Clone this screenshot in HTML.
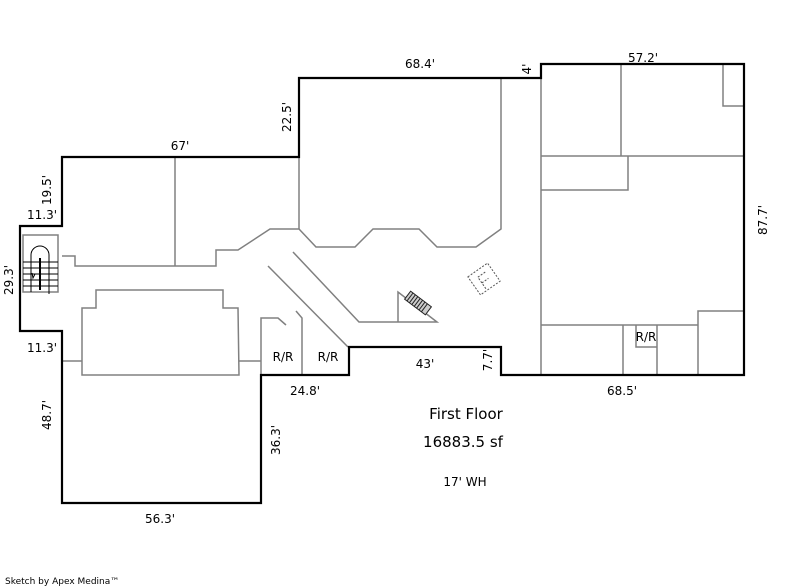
<!DOCTYPE html>
<html><head><meta charset="utf-8"><style>
html,body{margin:0;padding:0;background:#fff}
svg{display:block}
text{font-family:"DejaVu Sans","Liberation Sans",sans-serif;fill:#000}
</style></head><body>
<svg width="800" height="587" viewBox="0 0 800 587" xmlns="http://www.w3.org/2000/svg">
<g fill="none" stroke="#808080" stroke-width="1.5">
<line x1="175" y1="157" x2="175" y2="266"/>
<polyline points="62,256 75,256 75,266 216,266 216,250 238,250 270,229 299,229 316,247 355,247 373,229 419,229 437,247 476,247 501,229 501,78"/>
<line x1="299" y1="157" x2="299" y2="229"/>
<polyline points="293,252 359,322 437,322 398,292 398,322"/>
<line x1="268" y1="266" x2="348" y2="347"/>
<polyline points="296,311 302,318 302,375"/>
<polyline points="261,375 261,318 278,318 286,325"/>
<polygon points="82,375 82,308 96,308 96,290 223,290 223,308 238,308 239,375"/>
<line x1="62" y1="361" x2="82" y2="361"/>
<line x1="239" y1="361" x2="261" y2="361"/>
<line x1="541" y1="64" x2="541" y2="375"/>
<line x1="621" y1="64" x2="621" y2="156"/>
<line x1="541" y1="156" x2="744" y2="156"/>
<polyline points="628,156 628,190 541,190"/>
<polyline points="723,64 723,106 744,106"/>
<line x1="541" y1="325" x2="698" y2="325"/>
<polyline points="698,375 698,311 744,311"/>
<line x1="623" y1="325" x2="623" y2="375"/>
<line x1="657" y1="325" x2="657" y2="375"/>
<polyline points="636,325 636,347 657,347"/>
<rect x="23" y="235" width="35" height="57"/>
</g>
<g stroke="#000" stroke-width="1" fill="none">
<line x1="23" y1="262" x2="58" y2="262"/><line x1="23" y1="268" x2="58" y2="268"/>
<line x1="23" y1="274" x2="58" y2="274"/><line x1="23" y1="280" x2="58" y2="280"/>
<line x1="23" y1="286" x2="58" y2="286"/>
<path d="M31,292 V255 A9,9 0 0 1 49,255 V294"/>
<line x1="40" y1="258" x2="40" y2="290" stroke-width="2"/>
<path d="M32,273 l1,5 l2,-4"/>
<g stroke="#555" stroke-dasharray="2,1.5" transform="rotate(-35 484 279)">
<rect x="472" y="268" width="24" height="22"/>
<polyline points="480,288 480,274 490,274"/>
<line x1="480" y1="281" x2="488" y2="281"/>
</g>
<g transform="rotate(37 418 303)" stroke="#222">
<rect x="405" y="298" width="26" height="10" fill="#ccc"/>
<line x1="408" y1="298" x2="408" y2="308"/><line x1="411" y1="298" x2="411" y2="308"/>
<line x1="414" y1="298" x2="414" y2="308"/><line x1="417" y1="298" x2="417" y2="308"/>
<line x1="420" y1="298" x2="420" y2="308"/><line x1="423" y1="298" x2="423" y2="308"/>
<line x1="426" y1="298" x2="426" y2="308"/>
</g>
</g>
<polygon fill="none" stroke="#000" stroke-width="2.2" points="62,157 299,157 299,78 541,78 541,64 744,64 744,375 501,375 501,347 349,347 349,375 261,375 261,503 62,503 62,331 20,331 20,226 62,226"/>
<g font-size="12">
<text x="420" y="68" text-anchor="middle">68.4'</text>
<text x="643" y="62" text-anchor="middle">57.2'</text>
<text x="180" y="150" text-anchor="middle">67'</text>
<text x="42" y="219" text-anchor="middle">11.3'</text>
<text x="42" y="352" text-anchor="middle">11.3'</text>
<text x="160" y="523" text-anchor="middle">56.3'</text>
<text x="305" y="395" text-anchor="middle">24.8'</text>
<text x="425" y="368" text-anchor="middle">43'</text>
<text x="622" y="395" text-anchor="middle">68.5'</text>
<text x="283" y="361" text-anchor="middle">R/R</text>
<text x="328" y="361" text-anchor="middle">R/R</text>
<text x="646" y="341" text-anchor="middle">R/R</text>
<text transform="translate(531,69) rotate(-90)" text-anchor="middle">4'</text>
<text transform="translate(767,220) rotate(-90)" text-anchor="middle">87.7'</text>
<text transform="translate(291,117) rotate(-90)" text-anchor="middle">22.5'</text>
<text transform="translate(51,190) rotate(-90)" text-anchor="middle">19.5'</text>
<text transform="translate(13,280) rotate(-90)" text-anchor="middle">29.3'</text>
<text transform="translate(51,415) rotate(-90)" text-anchor="middle">48.7'</text>
<text transform="translate(280,440) rotate(-90)" text-anchor="middle">36.3'</text>
<text transform="translate(492,360) rotate(-90)" text-anchor="middle">7.7'</text>
</g>
<text x="466" y="419" font-size="15" text-anchor="middle">First Floor</text>
<text x="463" y="447" font-size="15" text-anchor="middle">16883.5 sf</text>
<text x="465" y="486" font-size="12" text-anchor="middle">17' WH</text>
<text x="5" y="584" font-size="9">Sketch by Apex Medina™</text>
</svg>
</body></html>
